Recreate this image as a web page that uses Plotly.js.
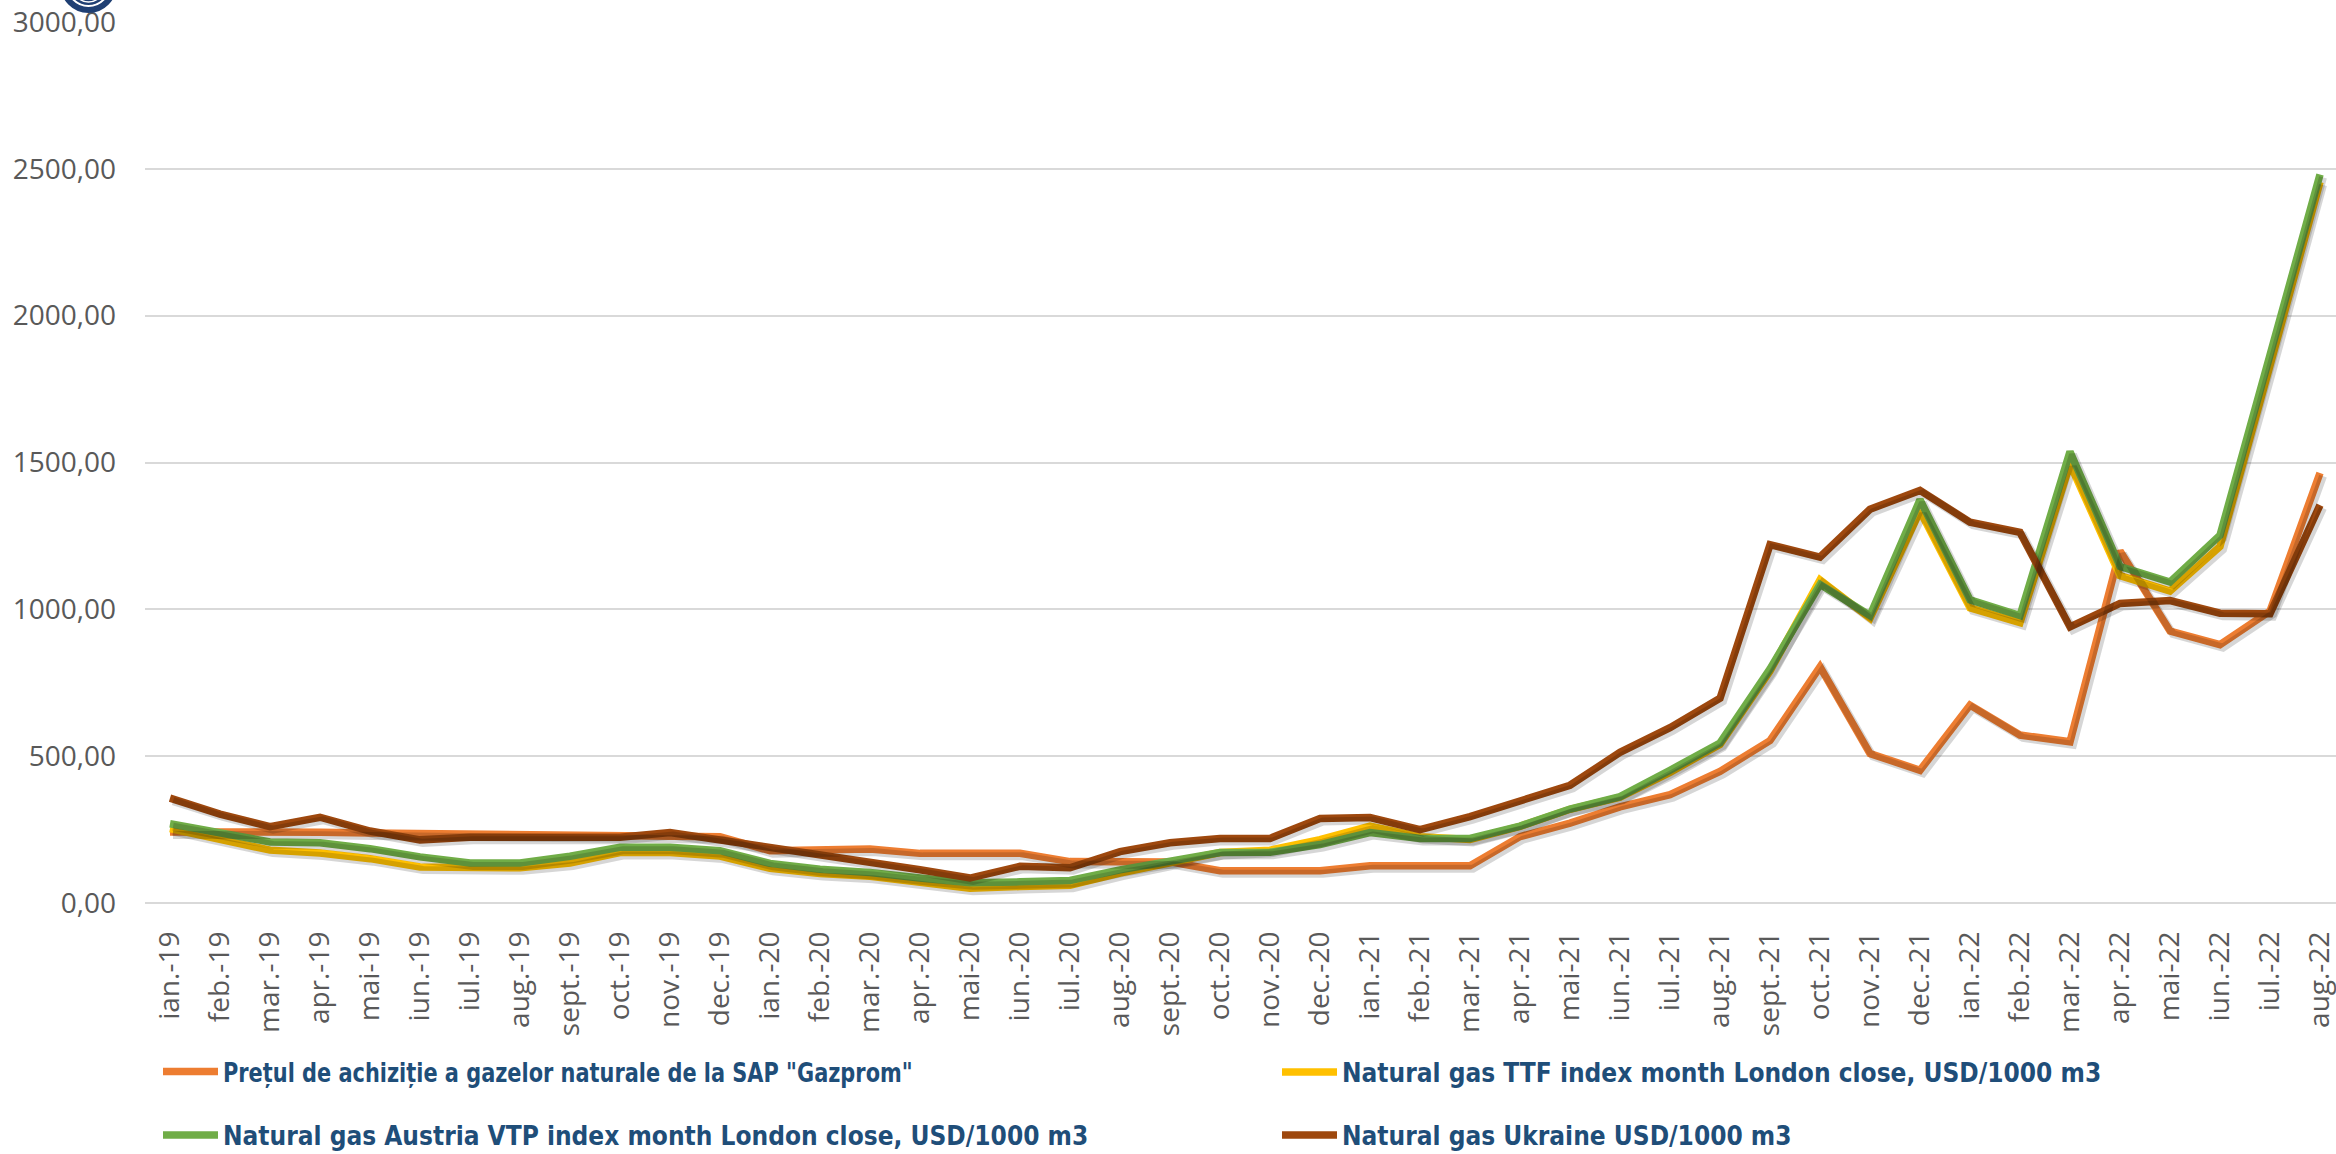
<!DOCTYPE html>
<html><head><meta charset="utf-8">
<script src="https://cdn.plot.ly/plotly-3.0.1.min.js"></script>
<style>html,body{margin:0;padding:0;background:#fff}#chart{width:2336px;height:1154px}</style>
</head><body><div id="chart"></div>
<script>
const categories = ['ian.-19','feb.-19','mar.-19','apr.-19','mai-19','iun.-19','iul.-19','aug.-19','sept.-19','oct.-19','nov.-19','dec.-19',
  'ian.-20','feb.-20','mar.-20','apr.-20','mai-20','iun.-20','iul.-20','aug.-20','sept.-20','oct.-20','nov.-20','dec.-20',
  'ian.-21','feb.-21','mar.-21','apr.-21','mai-21','iun.-21','iul.-21','aug.-21','sept.-21','oct.-21','nov.-21','dec.-21',
  'ian.-22','feb.-22','mar.-22','apr.-22','mai-22','iun.-22','iul.-22','aug.-22'];

const gazprom = [242,243,243,241,238,236,232,232,232,230,226,226,
  178,184,184,169,169,169,141,141,140,110,110,110,
  127,127,127,226,272,327,369,448,553,804,509,452,
  674,572,549,1199,926,880,994,1464];

const ttf = [253,214,180,170,151,123,120,120,136,172,172,160,
  118,100,91,70,50,56,60,102,139,172,180,216,
  262,226,216,261,319,360,445,540,790,1100,970,1335,
  1005,955,1495,1115,1062,1214,1830,2455];

const austriaVtp = [270,236,208,205,185,157,136,136,159,190,190,178,
  135,115,104,85,69,72,77,113,144,172,173,199,
  240,220,220,262,320,362,452,545,797,1085,979,1373,
  1032,979,1537,1146,1093,1252,1866,2481];

const ukraine = [357,303,260,292,245,215,224,224,224,224,240,215,
  190,166,142,113,85,125,120,175,205,220,220,288,
  291,250,294,349,401,513,597,697,1220,1178,1341,1405,
  1297,1262,940,1020,1030,987,985,1355];

const seriesNames = [
  'Prețul de achiziție a gazelor naturale de la SAP "Gazprom"',
  'Natural gas TTF index month London close, USD/1000 m3',
  'Natural gas Austria VTP index month London close, USD/1000 m3',
  'Natural gas Ukraine USD/1000 m3'
];
const seriesColors = ['#ED7D31','#FFC000','#70AD47','#9E480E'];
const seriesValues = [gazprom, ttf, austriaVtp, ukraine];
const legendIds = ['legend','legend2','legend3','legend4'];
const legendFontSizes = [27, 26, 26, 26];
// condensed look of the original (Calibri bold) legend texts: target text widths in px
const legendTextWidths = [690, 745, 855, 445];

const W = 2336, H = 1154;
const mL = 145, mR = 0, mT = 22, mB = 251;
const plotW = W - mL - mR, plotH = H - mT - mB;
const xRange = [-0.5, 43.32];
const yRange = [0, 3000];
const pxPerCat = plotW / (xRange[1] - xRange[0]);
const pxPerUnit = plotH / (yRange[1] - yRange[0]);
const shadowDx = 3, shadowDy = 3;

const traces = [];
seriesValues.forEach((vals, i) => {
  traces.push({
    x: categories, y: vals, type: 'scatter', mode: 'lines',
    xaxis: 'x2', yaxis: 'y2',
    line: {color: 'rgba(0,0,0,0.16)', width: 8},
    showlegend: false, hoverinfo: 'skip'
  });
});
seriesValues.forEach((vals, i) => {
  traces.push({
    x: categories, y: vals, type: 'scatter', mode: 'lines',
    name: seriesNames[i],
    line: {color: seriesColors[i], width: 7.5},
    legend: legendIds[i],
    hoverinfo: 'x+y'
  });
});

const yTickFont = {family: 'Open Sans, sans-serif', size: 28, color: '#595959'};
const xTickFont = {family: 'Open Sans, sans-serif', size: 28, color: '#595959'};
const legFamily = 'DejaVu Sans Condensed, Liberation Sans Narrow, sans-serif';

function px2x(p){ return (p - mL) / plotW; }
function py2y(p){ return (H - mB - p) / plotH; }

const legendPos = [[158, 1072],[1277, 1072],[158, 1135],[1277, 1135]];
const layout = {
  width: W, height: H,
  margin: {l: mL, r: mR, t: mT, b: mB, pad: 0, autoexpand: false},
  paper_bgcolor: '#ffffff', plot_bgcolor: '#ffffff',
  separators: ',.',
  showlegend: true,
  xaxis: {
    type: 'category', range: xRange, tickangle: -90,
    tickfont: xTickFont, showgrid: false, zeroline: false, showline: false,
    ticks: '', ticklabelstandoff: 22, automargin: false
  },
  yaxis: {
    range: yRange, dtick: 500, tickformat: '.2f',
    tickfont: yTickFont, showgrid: true, gridcolor: '#D9D9D9', gridwidth: 2,
    zeroline: true, zerolinecolor: '#D9D9D9', zerolinewidth: 2,
    showline: false, ticks: '', ticklabelstandoff: 28, automargin: false
  },
  xaxis2: {
    type: 'category', overlaying: 'x', visible: false,
    range: [xRange[0] - shadowDx / pxPerCat, xRange[1] - shadowDx / pxPerCat]
  },
  yaxis2: {
    overlaying: 'y', visible: false,
    range: [yRange[0] + shadowDy / pxPerUnit, yRange[1] + shadowDy / pxPerUnit]
  },
  shapes: [
    {type: 'circle', xref: 'paper', yref: 'paper', layer: 'above',
     x0: px2x(61), x1: px2x(116), y0: py2y(-44), y1: py2y(12),
     fillcolor: '#1F3F73', line: {color: '#1F3F73', width: 2}},
    {type: 'circle', xref: 'paper', yref: 'paper', layer: 'above',
     x0: px2x(67), x1: px2x(110), y0: py2y(-38), y1: py2y(6),
     fillcolor: 'rgba(0,0,0,0)', line: {color: '#ffffff', width: 2}},
    {type: 'circle', xref: 'paper', yref: 'paper', layer: 'above',
     x0: px2x(72), x1: px2x(105), y0: py2y(-34), y1: py2y(2),
     fillcolor: 'rgba(0,0,0,0)', line: {color: '#ffffff', width: 1.5}}
  ]
};
legendIds.forEach((id, i) => {
  layout[id] = {
    x: px2x(legendPos[i][0]), xanchor: 'left',
    y: py2y(legendPos[i][1]), yanchor: 'middle',
    orientation: 'h',
    font: {family: legFamily, size: legendFontSizes[i], color: '#1F4E79', weight: 'bold'},
    bgcolor: 'rgba(0,0,0,0)',
    borderwidth: 0, itemwidth: 55, itemclick: false, itemdoubleclick: false
  };
});

function squeezeLegendTexts() {
  const texts = document.querySelectorAll('#chart text.legendtext');
  for (let k = 0; k < texts.length; k++) {
    try {
      const t = texts[k];
      const idx = seriesNames.indexOf((t.textContent || '').trim());
      if (idx < 0) continue;
      t.removeAttribute('transform');
      const w = t.getComputedTextLength();
      if (!w) continue;
      const s = Math.min(1, legendTextWidths[idx] / w);
      const x0 = parseFloat(t.getAttribute('x')) || 0;
      t.setAttribute('transform', 'translate(' + x0 + ',0) scale(' + s + ',1) translate(' + (-x0) + ',0)');
    } catch (e) { /* keep going */ }
  }
}

Plotly.newPlot('chart', traces, layout, {displayModeBar: false, staticPlot: true}).then(gd => {
  squeezeLegendTexts();
  gd.on('plotly_afterplot', squeezeLegendTexts);
  [50, 300, 1000].forEach(ms => setTimeout(squeezeLegendTexts, ms));
});
</script></body></html>
